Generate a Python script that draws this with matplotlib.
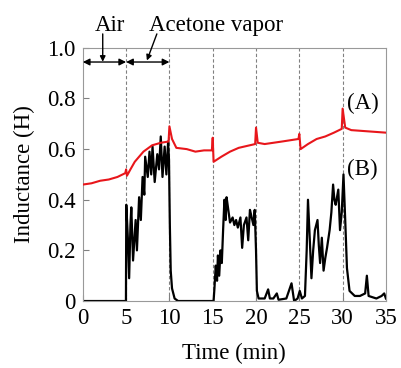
import numpy as np
import matplotlib
matplotlib.use('Agg')
import matplotlib.pyplot as plt

plt.rcParams['font.family'] = ['Liberation Serif', 'DejaVu Serif']

# 曲线 (A) 红色
t_a = [0, 1, 2, 3, 4, 4.9, 5.0, 5.1, 5.5, 6, 7, 8, 9, 9.9, 10.0, 10.3, 10.8,
       12, 13, 14, 14.9, 15.0, 15.1, 16, 17, 18, 19.9, 20.0, 20.2, 21, 22, 23,
       24.9, 25.0, 25.15, 26, 27, 28, 29, 29.9, 30.0, 30.3, 31, 33, 35]
ind_a = [0.46, 0.465, 0.475, 0.48, 0.49, 0.505, 0.52, 0.495, 0.52, 0.55, 0.59,
         0.615, 0.625, 0.63, 0.69, 0.64, 0.605, 0.60, 0.59, 0.595, 0.595, 0.645,
         0.55, 0.57, 0.59, 0.605, 0.62, 0.685, 0.625, 0.62, 0.625, 0.63, 0.64,
         0.66, 0.60, 0.62, 0.64, 0.65, 0.665, 0.68, 0.76, 0.685, 0.675, 0.67, 0.665]

# 曲线 (B) 黑色
t_b = [0, 4.98, 5.02, 5.2, 5.35, 5.5, 5.6, 5.8, 6.1, 6.25, 6.5, 6.7, 6.9, 7.1,
       7.2, 7.5, 7.7, 7.9, 8.05, 8.3, 8.6, 8.8, 9.0, 9.2, 9.45, 9.65, 9.85,
       9.95, 10.05, 10.15, 10.3, 10.6, 11.0, 15.1, 15.2, 15.35, 15.5, 15.6,
       15.75, 15.9, 16.05, 16.2, 16.35, 16.5, 16.6, 16.8, 17.0, 17.3, 17.5,
       17.7, 17.9, 18.2, 18.4, 18.6, 18.9, 19.1, 19.3, 19.5, 19.7, 19.85, 20.0,
       20.1, 20.3, 21.0, 21.4, 21.6, 22.0, 22.4, 22.6, 23.5, 24.1, 24.4, 24.8,
       25.05, 25.3, 25.65, 25.85, 26.0, 26.2, 26.4, 26.6, 26.8, 27.1, 27.25,
       27.4, 27.6, 27.8, 28.0, 28.2, 28.5, 28.7, 28.9, 29.05, 29.2, 29.5, 29.7,
       29.9, 30.1, 30.3, 30.5, 30.8, 31.4, 32.0, 32.6, 32.8, 33.0, 33.9, 34.5,
       34.8, 35.0]
ind_b = [0, 0, 0.38, 0.25, 0.09, 0.30, 0.37, 0.16, 0.32, 0.20, 0.41, 0.32, 0.49,
         0.42, 0.57, 0.49, 0.59, 0.50, 0.61, 0.47, 0.58, 0.52, 0.65, 0.49, 0.61,
         0.50, 0.63, 0.56, 0.30, 0.12, 0.05, 0.01, 0.0, 0.0, 0.05, 0.14, 0.08,
         0.18, 0.10, 0.20, 0.15, 0.28, 0.40, 0.32, 0.41, 0.36, 0.31, 0.33, 0.30,
         0.32, 0.29, 0.33, 0.21, 0.30, 0.33, 0.24, 0.36, 0.33, 0.30, 0.36, 0.20,
         0.04, 0.01, 0.01, 0.046, 0.01, 0.01, 0.03, 0.005, 0.01, 0.07, 0.0, 0.01,
         0.04, 0.01, 0.02, 0.2, 0.40, 0.25, 0.09, 0.2, 0.28, 0.32, 0.22, 0.15,
         0.25, 0.12, 0.17, 0.21, 0.28, 0.35, 0.46, 0.40, 0.38, 0.44, 0.28, 0.35,
         0.50, 0.32, 0.13, 0.04, 0.02, 0.02, 0.03, 0.10, 0.02, 0.01, 0.02, 0.03, 0.01]

x_ticks = [0, 5, 10, 15, 20, 25, 30, 35]
y_ticks = [0, 0.2, 0.4, 0.6, 0.8, 1.0]
y_ticklabels = ['0', '0.2', '0.4', '0.6', '0.8', '1.0']
switch_t = [5, 10, 15, 20, 25, 30]

fs = 16.5
fig = plt.figure(figsize=(4.02, 3.68), dpi=100)
ax = fig.add_axes([0.206, 0.182, 0.754, 0.688])

for s in switch_t:
    ax.plot([s, s], [0, 1], color='gray', lw=0.8, ls=(0, (3, 2)), zorder=1)

ax.plot(t_a, ind_a, color='#e8161b', lw=1.5, zorder=3)
ax.plot(t_b, ind_b, color='black', lw=1.6, zorder=2)

ax.set_xlim(0, 35)
ax.set_ylim(0, 1.0)
ax.set_xticks(x_ticks)
ax.set_yticks(y_ticks)
ax.set_yticklabels(y_ticklabels)
ax.tick_params(direction='in', length=4, color='gray', labelsize=fs, pad=5)
for sp in ax.spines.values():
    sp.set_color('#999999')

ax.set_xlabel('Time (min)', fontsize=fs, labelpad=10)
ax.set_ylabel('Inductance (H)', fontsize=fs, labelpad=9)

# 双向箭头
for x0, x1 in [(0, 5), (5, 10)]:
    ax.annotate('', xy=(x1, 0.944), xytext=(x0, 0.944),
                arrowprops=dict(arrowstyle='<|-|>', color='black', lw=1,
                                mutation_scale=10, shrinkA=0, shrinkB=0))

ax.text(3.1, 1.09, 'Air', fontsize=fs, ha='center', va='center', clip_on=False)
ax.annotate('', xy=(2.3, 0.945), xytext=(2.3, 1.055),
            arrowprops=dict(arrowstyle='-|>', color='black', lw=1,
                            mutation_scale=8, shrinkA=0, shrinkB=0),
            annotation_clip=False)
ax.text(15.4, 1.09, 'Acetone vapor', fontsize=fs, ha='center', va='center', clip_on=False)
ax.annotate('', xy=(7.4, 0.95), xytext=(8.55, 1.055),
            arrowprops=dict(arrowstyle='-|>', color='black', lw=1,
                            mutation_scale=8, shrinkA=0, shrinkB=0),
            annotation_clip=False)

ax.text(32.3, 0.78, '(A)', fontsize=fs, ha='center', va='center')
ax.text(32.3, 0.52, '(B)', fontsize=fs, ha='center', va='center')

plt.savefig('out.png', dpi=100)
